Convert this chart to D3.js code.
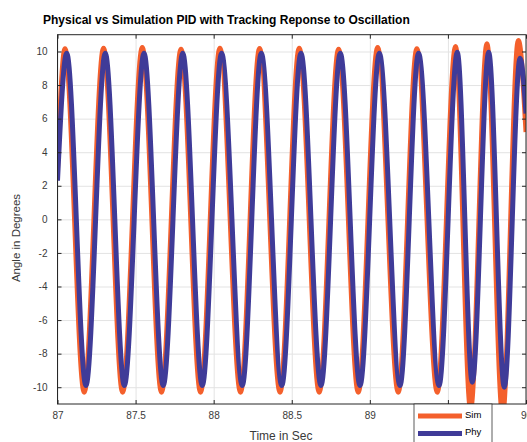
<!DOCTYPE html>
<html><head><meta charset="utf-8">
<script src="https://cdn.jsdelivr.net/npm/d3@7"></script>
<style>body{margin:0;background:#fff;overflow:hidden}</style>
</head><body>
<script>
// ---- data ----
const phyT = [87.000, 87.059, 87.182, 87.306, 87.428, 87.554, 87.677, 87.802, 87.927, 88.051, 88.183, 88.305, 88.436, 88.559, 88.687, 88.811, 88.937, 89.061, 89.193, 89.312, 89.443, 89.560, 89.656, 89.761, 89.861, 89.962, 90.000];
const phyV = [2.3, 9.9, -9.9, 9.9, -9.9, 9.9, -9.9, 9.9, -9.9, 9.9, -9.9, 9.9, -9.9, 9.9, -9.9, 9.9, -9.9, 9.9, -9.9, 9.9, -9.9, 9.95, -9.7, 9.95, -10.0, 9.6, 6.3];
const simT = [87.000, 87.048, 87.171, 87.295, 87.417, 87.543, 87.666, 87.791, 87.916, 88.040, 88.172, 88.294, 88.425, 88.548, 88.676, 88.800, 88.926, 89.050, 89.182, 89.301, 89.432, 89.549, 89.645, 89.750, 89.850, 89.951, 90.000];
const simV = [3.0, 10.16, -10.3, 10.2, -10.3, 10.24, -10.3, 10.14, -10.3, 10.2, -10.3, 10.18, -10.3, 10.2, -10.3, 10.14, -10.3, 10.24, -10.3, 10.16, -10.3, 10.3, -11.3, 10.46, -11.6, 10.66, 5.2];
const seriesNames = ["Sim", "Phy"];
const seriesColors = ["#f4602c", "#3f3b98"];
const xTicks = [87, 87.5, 88, 88.5, 89, 89.5, 90];
const yTicks = [-10, -8, -6, -4, -2, 0, 2, 4, 6, 8, 10];
const titleText = "Physical vs Simulation PID with Tracking Reponse to Oscillation";
const xLabel = "Time in Sec";
const yLabel = "Angle in Degrees";

// ---- layout ----
const W = 527, H = 442;
const L = 57.5, R = 526, T = 34.7, B = 404;
const font = "'Liberation Sans', Arial, Helvetica, sans-serif";
const axisColor = "#262626";
const labelColor = "#3a3a3a";

const svg = d3.select("body").append("svg").attr("width", W).attr("height", H)
  .style("font-family", font);
svg.append("rect").attr("width", W).attr("height", H).attr("fill", "#fff");

const x = d3.scaleLinear().domain([87, 90]).range([L, R]);
const y = d3.scaleLinear().domain([-11, 11]).range([B, T]);
const fmt = d => String(d);

// grid
const grid = svg.append("g");
grid.append("g").attr("transform", `translate(0,${B})`)
  .call(d3.axisBottom(x).tickValues(xTicks).tickSize(-(B - T)).tickFormat(""))
  .call(g => g.select(".domain").remove())
  .call(g => g.selectAll("line").attr("stroke", "#e3e3e3").attr("stroke-width", 1));
grid.append("g").attr("transform", `translate(${L},0)`)
  .call(d3.axisLeft(y).tickValues(yTicks).tickSize(-(R - L)).tickFormat(""))
  .call(g => g.select(".domain").remove())
  .call(g => g.selectAll("line").attr("stroke", "#e3e3e3").attr("stroke-width", 1));

// lines
svg.append("clipPath").attr("id", "clip").append("rect")
  .attr("x", L).attr("y", T).attr("width", R - L).attr("height", B - T);
const line = d3.line().x(d => x(d[0])).y(d => y(d[1])).curve(d3.curveMonotoneX);
const simData = simT.map((t, i) => [t, simV[i]]);
const phyData = phyT.map((t, i) => [t, phyV[i]]);
const plot = svg.append("g").attr("clip-path", "url(#clip)");
plot.append("path").datum(simData).attr("d", line).attr("fill", "none")
  .attr("stroke", seriesColors[0]).attr("stroke-width", 5).attr("stroke-linejoin", "round");
plot.append("path").datum(phyData).attr("d", line).attr("fill", "none")
  .attr("stroke", seriesColors[1]).attr("stroke-width", 5).attr("stroke-linejoin", "round");

// axes
const styleAxis = g => {
  g.select(".domain").remove();
  g.selectAll("line").attr("stroke", axisColor);
  g.selectAll("text").attr("fill", labelColor).style("font-size", "10px").style("font-family", font);
};
svg.append("g").attr("transform", `translate(0,${B})`)
  .call(d3.axisBottom(x).tickValues(xTicks).tickSize(-4).tickPadding(8).tickFormat(fmt))
  .call(styleAxis);
svg.append("g").attr("transform", `translate(0,${T})`)
  .call(d3.axisTop(x).tickValues(xTicks).tickSize(-4).tickFormat(""))
  .call(styleAxis);
svg.append("g").attr("transform", `translate(${L},0)`)
  .call(d3.axisLeft(y).tickValues(yTicks).tickSize(-4).tickPadding(10).tickFormat(fmt))
  .call(styleAxis);
svg.append("g").attr("transform", `translate(${R},0)`)
  .call(d3.axisRight(y).tickValues(yTicks).tickSize(-4).tickFormat(""))
  .call(styleAxis);
svg.append("rect").attr("x", L).attr("y", T).attr("width", R - L).attr("height", B - T)
  .attr("fill", "none").attr("stroke", axisColor).attr("stroke-width", 1);

// title & labels
svg.append("text").attr("x", 43).attr("y", 24).text(titleText)
  .style("font-weight", "bold").style("font-size", "12px").attr("fill", "#000");
svg.append("text").attr("x", 281).attr("y", 440).attr("text-anchor", "middle")
  .text(xLabel).style("font-size", "12px").attr("fill", labelColor);
svg.append("text").attr("transform", `translate(19.5,238) rotate(-90)`)
  .attr("text-anchor", "middle").text(yLabel).style("font-size", "11.5px").attr("fill", labelColor);

// legend
const lg = svg.append("g");
lg.append("rect").attr("x", 414).attr("y", 404).attr("width", 78).attr("height", 50)
  .attr("fill", "#fff").attr("stroke", axisColor).attr("stroke-width", 0.75);
seriesNames.forEach((n, i) => {
  const yy = 416 + i * 17.5;
  lg.append("line").attr("x1", 418).attr("x2", 462).attr("y1", yy).attr("y2", yy)
    .attr("stroke", seriesColors[i]).attr("stroke-width", 5);
  lg.append("text").attr("x", 465).attr("y", yy + 1.5).text(n)
    .style("font-size", "9.5px").attr("fill", "#000");
});
</script>
</body></html>
